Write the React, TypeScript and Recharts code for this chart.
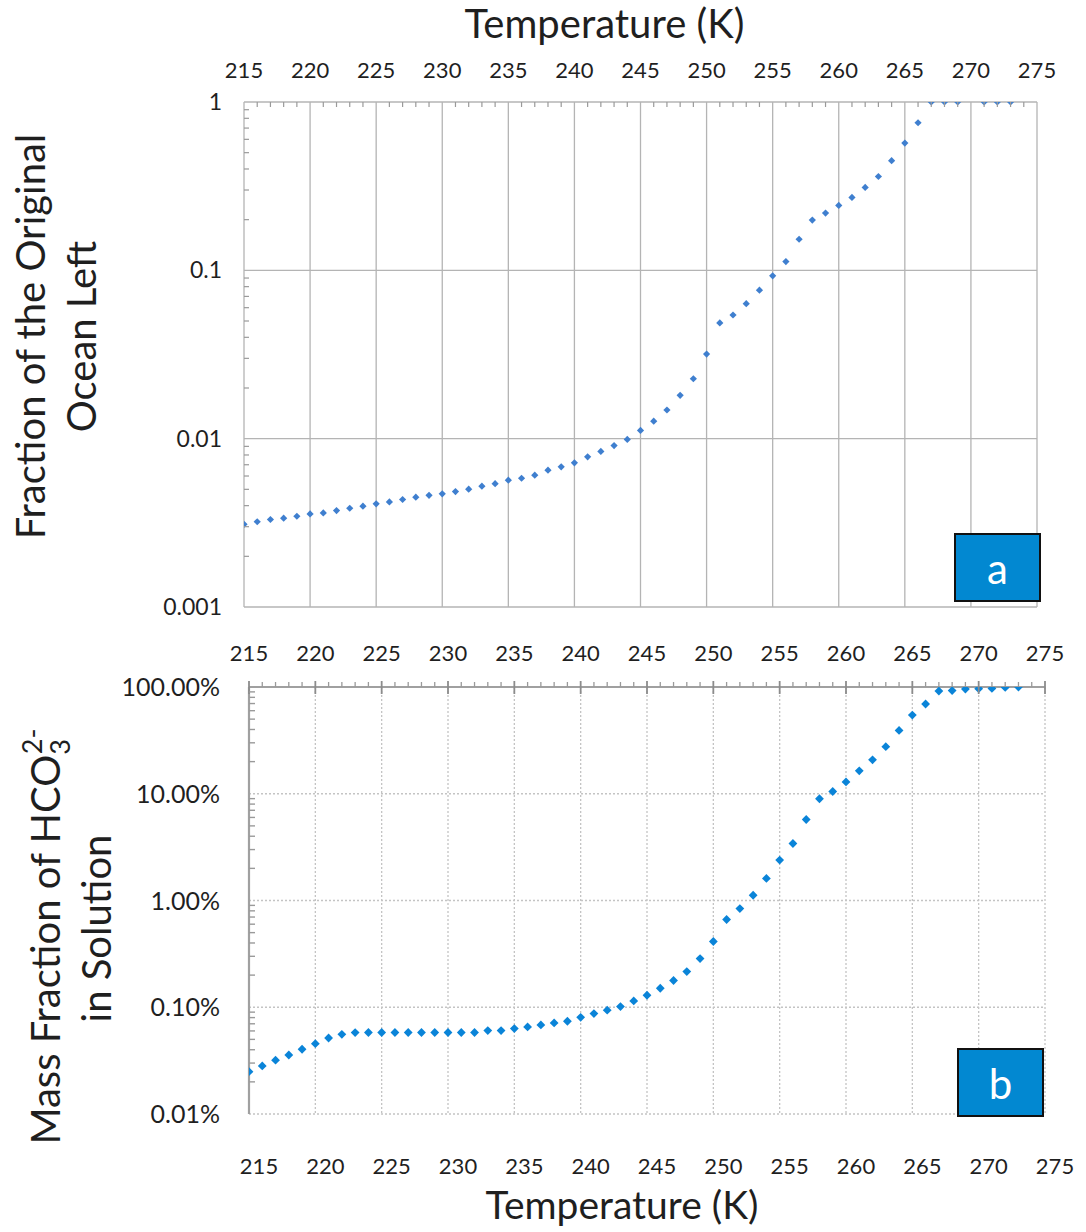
import { ScatterChart, Scatter, XAxis, YAxis, ReferenceLine, Label } from 'recharts';

// Two stacked log-scale scatter panels sharing the temperature axis

const FONT = 'Lato, "Open Sans", sans-serif';
const TEXT = '#1f1f1f';

// tick labels
const majorTemps = [215, 220, 225, 230, 235, 240, 245, 250, 255, 260, 265, 270, 275];
const fractionDecades = [0.001, 0.01, 0.1, 1];
const percentDecades = [0.01, 0.1, 1, 10, 100];

// (a) fraction of the original ocean left
const oceanTemps = [
  215, 216, 217, 218, 219, 220, 221, 222, 223, 224, 225, 226, 227, 228, 229, 230,
  231, 232, 233, 234, 235, 236, 237, 238, 239, 240, 241, 242, 243, 244, 245, 246,
  247, 248, 249, 250, 251, 252, 253, 254, 255, 256, 257, 258, 259, 260, 261, 262,
  263, 264, 265, 266, 267, 268, 269, 271, 272, 273,
];
const oceanFraction = [
  0.0031, 0.00321, 0.00331, 0.00337, 0.00346, 0.00357, 0.00362, 0.00374, 0.00386, 0.00397,
  0.0041, 0.00421, 0.00435, 0.00449, 0.00461, 0.0047, 0.00485, 0.00501, 0.00522, 0.0054,
  0.00567, 0.00582, 0.00607, 0.0065, 0.0068, 0.00719, 0.0078, 0.0084, 0.0091, 0.0099,
  0.0112, 0.0127, 0.0148, 0.0181, 0.0227, 0.0318, 0.0487, 0.0543, 0.0634, 0.0762,
  0.0927, 0.1127, 0.153, 0.199, 0.219, 0.243, 0.271, 0.311, 0.361, 0.448,
  0.57, 0.753, 1, 1, 1, 1, 1, 1,
];

// (b) mass fraction of carbonate in solution, percent
const carbonateTemps = [
  215, 216, 217, 218, 219, 220, 221, 222, 223, 224, 225, 226, 227, 228, 229, 230,
  231, 232, 233, 234, 235, 236, 237, 238, 239, 240, 241, 242, 243, 244, 245, 246,
  247, 248, 249, 250, 251, 252, 253, 254, 255, 256, 257, 258, 259, 260, 261, 262,
  263, 264, 265, 266, 267, 268, 269, 270, 271, 272, 273,
];
const carbonatePercent = [
  0.0249, 0.0282, 0.0319, 0.0357, 0.0404, 0.0456, 0.0515, 0.0558, 0.0579, 0.058,
  0.058, 0.058, 0.058, 0.058, 0.058, 0.058, 0.058, 0.058, 0.0604, 0.0604,
  0.0631, 0.0654, 0.0683, 0.0713, 0.0739, 0.0805, 0.0873, 0.0938, 0.1015, 0.1146,
  0.1296, 0.1507, 0.178, 0.216, 0.286, 0.413, 0.664, 0.841, 1.12, 1.61,
  2.39, 3.42, 5.74, 8.98, 10.5, 12.9, 16.4, 20.8, 27.6, 39.2,
  54.6, 69.3, 91.7, 92.5, 95.8, 96.5, 97, 99, 100,
];

const oceanData = oceanTemps.map((t, i) => ({ t, v: oceanFraction[i] }));
const carbonateData = carbonateTemps.map((t, i) => ({ t, v: carbonatePercent[i] }));

// every kelvin gets a tick, labels only on the fives
const allTemps = Array.from({ length: 61 }, (_, i) => 215 + i);
const withMinors = (decades: number[]) => [
  ...decades,
  ...decades.slice(0, -1).flatMap((d) => [2, 3, 4, 5, 6, 7, 8, 9].map((k) => k * d)),
];

const isMajorTemp = (v: number) => v % 5 === 0;
const isDecade = (v: number) => Math.abs(Math.log10(v) - Math.round(Math.log10(v))) < 1e-6;

const diamond = (r: number, fill: string) => (p: any) => (
  <polygon
    points={`${p.cx},${p.cy - r} ${p.cx + r},${p.cy} ${p.cx},${p.cy + r} ${p.cx - r},${p.cy}`}
    fill={fill}
  />
);

const tickText = { fontFamily: FONT, fill: TEXT };

// ---- panel a ticks (tickSize/tickMargin are 0, so x/y sit on the axis line)
const TopTickA = ({ x, y, payload }: any) =>
  isMajorTemp(payload.value) ? (
    <text x={x} y={y - 24} textAnchor="middle" fontSize={22} {...tickText}>
      {payload.value}
    </text>
  ) : (
    <line x1={x} x2={x} y1={y} y2={y + 5} stroke="#9a9a9a" strokeWidth={1.2} />
  );

const LeftTickA = ({ x, y, payload }: any) =>
  isDecade(payload.value) ? (
    <text x={x - 22} y={y + 8} textAnchor="end" fontSize={23} {...tickText}>
      {String(payload.value)}
    </text>
  ) : (
    <line x1={x} x2={x + 5} y1={y} y2={y} stroke="#9a9a9a" strokeWidth={1.2} />
  );

// ---- panel b ticks
const TopTickB = ({ x, y, payload }: any) =>
  isMajorTemp(payload.value) ? (
    <g>
      <line x1={x} x2={x} y1={y - 6} y2={y + 7} stroke="#8c8c8c" strokeWidth={1.8} />
      <text x={x} y={y - 26} textAnchor="middle" fontSize={22} {...tickText}>
        {payload.value}
      </text>
    </g>
  ) : (
    <line x1={x} x2={x} y1={y - 5} y2={y} stroke="#9a9a9a" strokeWidth={1.3} />
  );

const BottomTickB = ({ x, y, payload }: any) => (
  <text x={x + 10} y={y + 60} textAnchor="middle" fontSize={22} {...tickText}>
    {payload.value}
  </text>
);

const LeftTickB = ({ x, y, payload }: any) =>
  isDecade(payload.value) ? (
    <text x={x - 29} y={y + 9} textAnchor="end" fontSize={25} {...tickText}>
      {payload.value.toFixed(2) + '%'}
    </text>
  ) : (
    <line x1={x} x2={x + 6} y1={y} y2={y} stroke="#9a9a9a" strokeWidth={1.4} />
  );

// ---- axis titles
const TempTitle = (baseline: number, shift: number, size: number) => ({ viewBox }: any) => (
  <text
    x={viewBox.x + viewBox.width / 2 + shift}
    y={viewBox.y + baseline}
    textAnchor="middle"
    fontSize={size}
    fontFamily={FONT}
    fill={TEXT}
  >
    Temperature (K)
  </text>
);

const FractionTitle = ({ viewBox }: any) => {
  const cy = viewBox.y + viewBox.height / 2 - 18;
  return (
    <g fontSize={40} fontFamily={FONT} fill={TEXT}>
      <text x={45} y={cy} textAnchor="middle" transform={`rotate(-90, 45, ${cy})`}>
        Fraction of the Original
      </text>
      <text x={96} y={cy} textAnchor="middle" transform={`rotate(-90, 96, ${cy})`}>
        Ocean Left
      </text>
    </g>
  );
};

const CarbonateTitle = ({ viewBox }: any) => {
  const mid = viewBox.y + viewBox.height / 2;
  const cy1 = mid + 36;
  const cy2 = mid + 28;
  return (
    <g fontSize={40} fontFamily={FONT} fill={TEXT}>
      <text x={60} y={cy1} textAnchor="middle" transform={`rotate(-90, 60, ${cy1})`}>
        Mass Fraction of HCO
        <tspan fontSize={27} dy={10}>3</tspan>
        <tspan fontSize={27} dx={-15} dy={-28}>2-</tspan>
      </text>
      <text x={111} y={cy2} textAnchor="middle" transform={`rotate(-90, 111, ${cy2})`}>
        in Solution
      </text>
    </g>
  );
};

const PanelTag = ({ left, top, letter }: { left: number; top: number; letter: string }) => (
  <div
    style={{
      position: 'absolute',
      left,
      top,
      width: 87,
      height: 69,
      boxSizing: 'border-box',
      background: '#0288d1',
      border: '2.5px solid #111',
      color: '#fff',
      fontFamily: FONT,
      fontSize: 42,
      display: 'flex',
      alignItems: 'center',
      justifyContent: 'center',
    }}
  >
    {letter}
  </div>
);

const solidGrid = { stroke: '#b4b4b4', strokeWidth: 1.3 };
const dottedGrid = { stroke: '#c4c4c4', strokeWidth: 1.3, strokeDasharray: '2 2' };

const App = () => {
  const fractionTicks = withMinors(fractionDecades);
  const percentTicks = withMinors(percentDecades);

  return (
    <div style={{ position: 'absolute', left: 0, top: 0, width: 1086, height: 1232, background: '#fff' }}>
      {/* panel a */}
      <div style={{ position: 'absolute', left: 0, top: 0 }}>
        <ScatterChart width={1086} height={620} margin={{ top: 0, right: 49, bottom: 13, left: 0 }}>
          <XAxis
            dataKey="t"
            type="number"
            orientation="top"
            domain={[215, 275]}
            ticks={allTemps}
            interval={0}
            allowDataOverflow
            height={102}
            tickSize={0}
            tickMargin={0}
            tickLine={false}
            axisLine={false}
            tick={<TopTickA />}
            label={<Label content={TempTitle(38, -36, 40)} />}
          />
          <YAxis
            dataKey="v"
            type="number"
            scale="log"
            domain={[0.001, 1]}
            ticks={fractionTicks}
            interval={0}
            allowDataOverflow
            width={244}
            tickSize={0}
            tickMargin={0}
            tickLine={false}
            axisLine={false}
            tick={<LeftTickA />}
            label={<Label content={FractionTitle} />}
          />
          {majorTemps.map((t) => (
            <ReferenceLine key={`ax${t}`} x={t} {...solidGrid} />
          ))}
          {fractionDecades.map((d) => (
            <ReferenceLine key={`ay${d}`} y={d} {...solidGrid} />
          ))}
          <Scatter data={oceanData} fill="#3f7fcf" shape={diamond(3.6, '#3f7fcf')} isAnimationActive={false} />
        </ScatterChart>
      </div>

      {/* panel b */}
      <div style={{ position: 'absolute', left: 0, top: 620 }}>
        <ScatterChart width={1086} height={612} margin={{ top: 0, right: 41, bottom: 0, left: 0 }}>
          <XAxis
            xAxisId="top"
            dataKey="t"
            type="number"
            orientation="top"
            domain={[215, 275]}
            ticks={allTemps}
            interval={0}
            allowDataOverflow
            height={67}
            tickSize={0}
            tickMargin={0}
            tickLine={false}
            axisLine={{ stroke: '#a0a0a0', strokeWidth: 2.2 }}
            tick={<TopTickB />}
          />
          <XAxis
            xAxisId="bottom"
            dataKey="t"
            type="number"
            orientation="bottom"
            domain={[215, 275]}
            ticks={majorTemps}
            interval={0}
            allowDataOverflow
            height={118}
            tickSize={0}
            tickMargin={0}
            tickLine={false}
            axisLine={false}
            tick={<BottomTickB />}
            label={<Label content={TempTitle(105, -25, 39)} />}
          />
          <YAxis
            dataKey="v"
            type="number"
            scale="log"
            domain={[0.01, 100]}
            ticks={percentTicks}
            interval={0}
            allowDataOverflow
            width={249}
            tickSize={0}
            tickMargin={0}
            tickLine={false}
            axisLine={{ stroke: '#a0a0a0', strokeWidth: 2.2 }}
            tick={<LeftTickB />}
            label={<Label content={CarbonateTitle} />}
          />
          {majorTemps.slice(1).map((t) => (
            <ReferenceLine key={`bx${t}`} xAxisId="top" x={t} {...dottedGrid} />
          ))}
          {percentDecades.slice(0, -1).map((d) => (
            <ReferenceLine key={`by${d}`} xAxisId="top" y={d} {...dottedGrid} />
          ))}
          <Scatter
            xAxisId="top"
            data={carbonateData}
            fill="#0a84d8"
            shape={diamond(4.4, '#0a84d8')}
            isAnimationActive={false}
          />
        </ScatterChart>
      </div>

      <PanelTag left={954} top={533} letter="a" />
      <PanelTag left={957} top={1048} letter="b" />
    </div>
  );
};

export default App;
